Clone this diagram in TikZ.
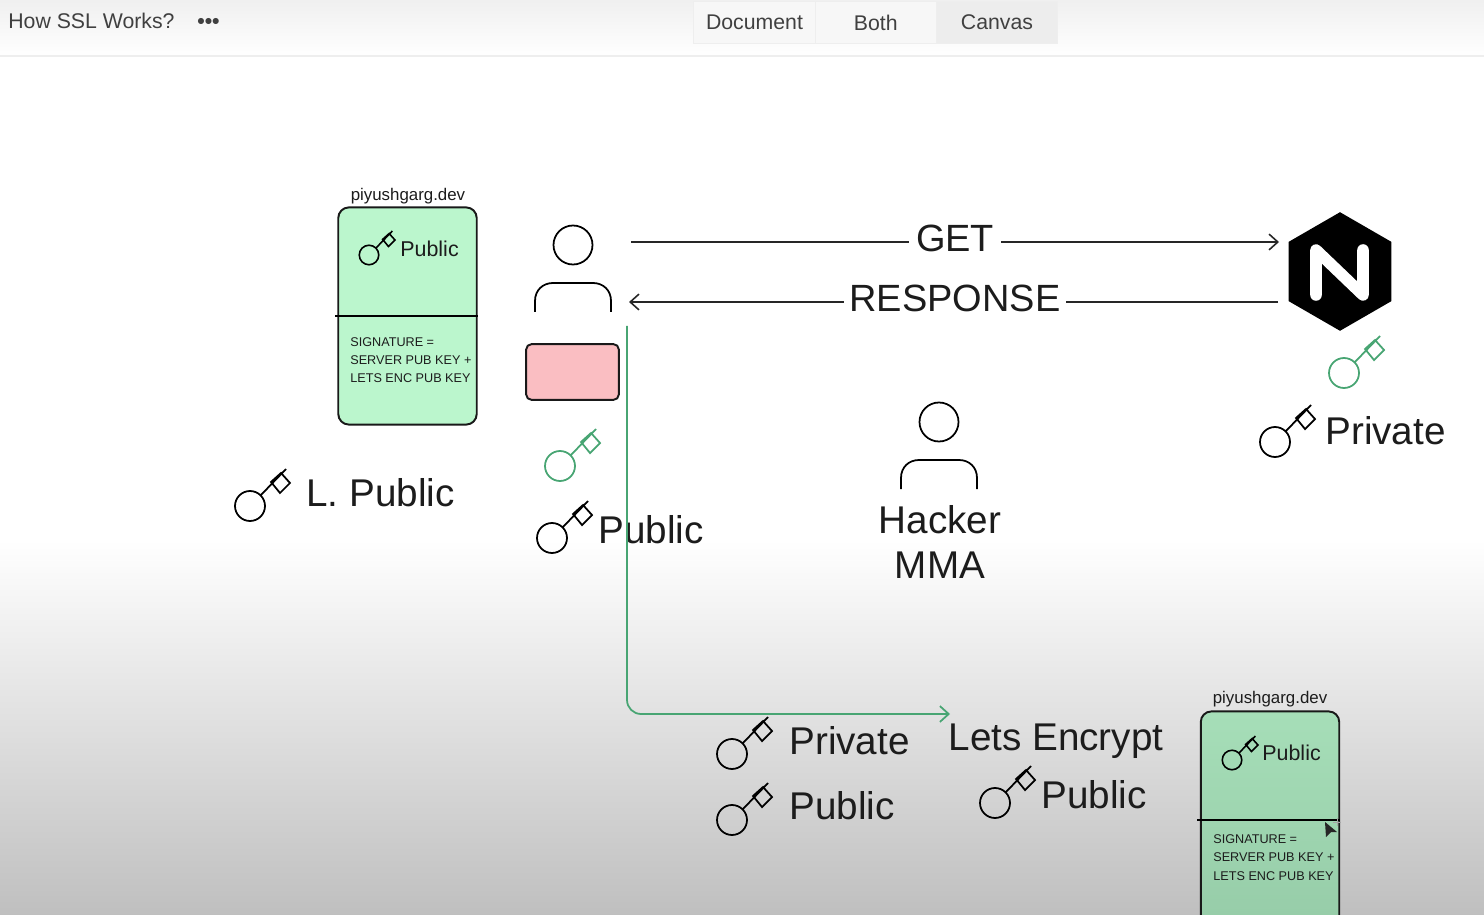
\documentclass[tikz,border=0pt]{standalone}
\usepackage{fontspec}
\setmainfont{Liberation Sans}
\usetikzlibrary{shapes.geometric, arrows.meta, positioning}
\definecolor{certgreen}{RGB}{187,246,205}
\definecolor{certdim}{RGB}{166,222,184}
\definecolor{certdark}{RGB}{150,204,168}
\definecolor{pinkbox}{RGB}{250,190,194}
\definecolor{keygreen}{RGB}{72,165,115}
\definecolor{barline}{RGB}{238,238,238}
\definecolor{inktext}{RGB}{28,28,28}
\tikzset{
    keyicon/.pic={
        \draw[pic actions] (0,0) circle [radius=15] (11,-11) -- (36,-37)
            (21,-24) -- (31,-33) -- (40,-23) -- (30,-13) -- cycle;
    },
    personicon/.pic={
        \draw[pic actions] (0,0) circle [radius=19.5];
        \draw[pic actions] (-38,67) -- (-38,56) .. controls (-38,45) and (-30,38) .. (-20,38)
            -- (20,38) .. controls (30,38) and (38,45) .. (38,56) -- (38,67);
    },
    keypic/.style={draw=black, line width=1pt},
    greenkey/.style={draw=keygreen, line width=1pt},
    smallkey/.style={draw=black, line width=0.9pt, scale=0.65},
    bigtext/.style={font=\fontsize{22}{25.5}\selectfont, text=inktext, inner sep=0pt},
    flowtext/.style={font=\fontsize{21.6}{25.5}\selectfont, text=inktext, inner sep=0pt},
    cardtext/.style={font=\fontsize{12.2}{14}\selectfont, text=inktext, inner sep=0pt},
    sigtext/.style={font=\fontsize{7.2}{10.25}\selectfont, align=left, text=inktext, inner sep=0pt},
    domaintext/.style={font=\fontsize{9.6}{11}\selectfont, text=inktext, inner sep=0pt},
    uitext/.style={font=\fontsize{12.1}{14}\selectfont, text=black!75, inner sep=0pt},
    certcard/.style={draw=black!90, line width=1.1pt, rounded corners=6pt, minimum width=78.8pt, minimum height=123.6pt, inner sep=0pt, outer sep=0pt},
    tabbox/.style={draw=barline, line width=0.5pt, minimum width=69pt, minimum height=23.5pt, inner sep=0pt, outer sep=0pt, uitext},
    flowline/.style={line width=0.9pt, draw=black!85},
    flowarrow/.style={flowline, -{Straight Barb[length=5pt, width=9pt]}}
}
\begin{document}
\begin{tikzpicture}[x=0.02cm, y=-0.02cm]
    \useasboundingbox (0,0) rectangle (1484,915);
    \clip (0,0) rectangle (1484,915);

    % page and top bar
    \fill[white] (0,0) rectangle (1484,915);
    \shade[top color=white, bottom color=black!25, shading angle=0] (0,540) rectangle (1484,915);
    \shade[top color=black!6, bottom color=white] (0,0) rectangle (1484,56);
    \draw[barline, line width=0.8pt] (0,56) -- (1484,56);

    \node[uitext, anchor=base west] (doctitle) at (8,29) {How SSL Works?};
    \node[uitext, anchor=base west, font=\fontsize{12.1}{14}\selectfont\bfseries] (moredots) at (197,29) {•••};
    \node[tabbox, fill=white!97!black] (tabdoc) at (754.5,22.5) {Document};
    \node[tabbox, fill=white!97!black, right=0pt of tabdoc] (tabboth) {Both};
    \node[tabbox, fill=black!7, right=0pt of tabboth] (tabcanvas) {Canvas};

    % certificate on the left
    \node[certcard, fill=certgreen] (cardleft) at (407.5,316) {};
    \node[domaintext, anchor=base] (domainleft) at (408,201) {piyushgarg.dev};
    \draw[line width=1.1pt] (335,316) -- (478,316);
    \pic[smallkey] at (369,255) {keyicon};
    \node[cardtext, anchor=base west] (publeft) at (400,257) {Public};
    \node[sigtext, anchor=base west] (sigleft) at (350,383) {SIGNATURE =\\SERVER PUB KEY +\\LETS ENC PUB KEY};

    \pic[keypic] at (250,506) {keyicon};
    \node[bigtext, anchor=base west] (lpublic) at (306,506) {L. Public};

    % client
    \pic[keypic] at (573,245) {personicon};
    \node[draw=black!90, line width=1.1pt, fill=pinkbox, rounded corners=3pt, minimum width=52.7pt, minimum height=31.7pt, outer sep=0pt] (clientbox) at (572.5,372) {};
    \pic[greenkey] at (560,466) {keyicon};
    \pic[keypic] at (552,538) {keyicon};
    \node[bigtext, anchor=base west] (pubclient) at (598,543) {Public};

    % nginx server
    \node[regular polygon, regular polygon sides=6, shape border rotate=30, fill=black, minimum size=67.5pt, inner sep=0pt, outer sep=0pt] (nginx) at (1340,271.5) {};
    \draw[white, line width=6.6pt, line cap=round, line join=round] (1316,295) -- (1316,250) -- (1363,295) -- (1363,250);
    \pic[greenkey] at (1344,373) {keyicon};
    \pic[keypic] at (1275,442) {keyicon};
    \node[bigtext, anchor=base west] (privnginx) at (1325,444) {Private};

    % request and response
    \coordinate (clientget) at (631,242);
    \coordinate (nginxget) at (1279,242);
    \coordinate (clientresp) at (629,302);
    \coordinate (nginxresp) at (1278,302);
    \node[flowtext, anchor=base, inner xsep=4pt] (getlabel) at (955,252) {GET};
    \node[flowtext, anchor=base, inner xsep=3pt] (resplabel) at (955,312) {RESPONSE};
    \draw[flowline] (clientget) -- (clientget -| getlabel.west);
    \draw[flowarrow] (clientget -| getlabel.east) -- (nginxget);
    \draw[flowline] (nginxresp) -- (nginxresp -| resplabel.east);
    \draw[flowarrow] (nginxresp -| resplabel.west) -- (clientresp);

    % hacker
    \pic[keypic] at (939,422) {personicon};
    \node[bigtext, align=center, anchor=base] (hacker) at (940,578) {Hacker\\MMA};

    % lets encrypt
    \coordinate (greenstart) at (627,326);
    \node[bigtext, anchor=base] (letsenc) at (1056,750) {Lets Encrypt};
    \coordinate (greenend) at (950,714);
    \draw[draw=keygreen, line width=1pt, rounded corners=8pt, -{Straight Barb[length=5pt, width=9pt]}] (greenstart) |- (greenend);
    \pic[keypic] at (732,754) {keyicon};
    \node[bigtext, anchor=base west] (privbottom) at (789,754) {Private};
    \pic[keypic] at (732,820) {keyicon};
    \node[bigtext, anchor=base west] (pubbottom) at (789,819) {Public};
    \pic[keypic] at (995,803) {keyicon};
    \node[bigtext, anchor=base west] (publets) at (1041,808) {Public};

    % signed certificate
    \node[certcard, top color=certdim, bottom color=certdark] (cardright) at (1270,820) {};
    \node[domaintext, anchor=base] (domainright) at (1270,703) {piyushgarg.dev};
    \draw[line width=1.1pt] (1197,820) -- (1340,820);
    \pic[smallkey] at (1232,760) {keyicon};
    \node[cardtext, anchor=base west] (pubright) at (1262,760) {Public};
    \node[sigtext, anchor=base west] (sigright) at (1213,880) {SIGNATURE =\\SERVER PUB KEY +\\LETS ENC PUB KEY};
    % cursor
    \fill[black!85] (1325,822) -- (1337,832) -- (1331,832) -- (1326,837) -- cycle;
    \draw[black!35, line width=0.5pt] (1333,822) -- (1341,822) (1337,818) -- (1337,826);
\end{tikzpicture}
\end{document}
